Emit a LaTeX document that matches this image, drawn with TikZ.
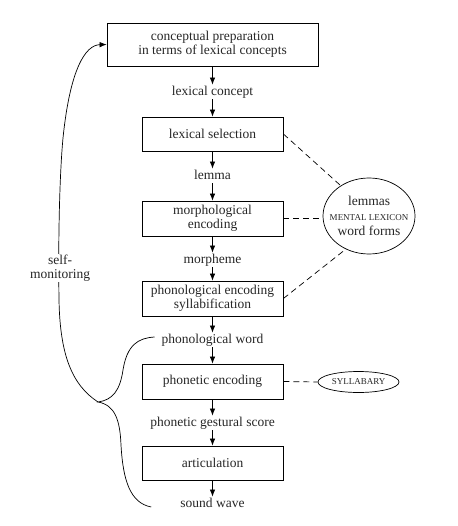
\documentclass[tikz,border=0pt]{standalone}
\usepackage{fontspec}
\setmainfont{Liberation Serif}
\usetikzlibrary{arrows.meta,shapes.geometric}

\begin{document}
\begin{tikzpicture}[x=1pt,y=-1pt,
	every node/.style={font=\fontsize{13.5}{14}\selectfont, text=black!85},
	box/.style={draw, line width=0.8pt, minimum width=141pt, minimum height=34pt, align=center, inner sep=1pt},
	word/.style={inner sep=1pt, text height=9.5pt, text depth=3pt},
	flow/.style={-{Latex[length=7pt,width=5.5pt]}, line width=0.7pt},
	link/.style={line width=0.7pt, dash pattern=on 6pt off 4pt},
	caps/.style={font=\fontsize{9}{10}\selectfont}]
	\useasboundingbox (0,0) rectangle (457,526);
	% main chain
	\node[box, minimum width=211pt, minimum height=43pt] (concept) at (212.5,44.5){conceptual preparation\\in terms of lexical concepts};
	\node[word] (lexcon) at (212.5,92){lexical concept};
	\node[box] (select) at (212.5,134){lexical selection};
	\node[word] (lemma) at (212.5,176){lemma};
	\node[box, minimum height=35pt] (morph) at (212.5,218.5){morphological\\encoding};
	\node[word] (morpheme) at (212.5,260){morpheme};
	\node[box, minimum height=35pt] (phon) at (212.5,298.5){phonological encoding\\syllabification};
	\node[word] (pword) at (212.5,340){phonological word};
	\node[box, minimum height=35pt] (phonetic) at (212.5,381.5){phonetic encoding};
	\node[word] (score) at (212.5,423){phonetic gestural score};
	\node[box] (artic) at (212.5,463){articulation};
	\node[word] (wave) at (212.5,504){sound wave};
	\foreach \a/\b in {concept/lexcon, lexcon/select, select/lemma, lemma/morph, morph/morpheme, morpheme/phon, phon/pword, pword/phonetic, phonetic/score, score/artic, artic/wave}
		\draw[flow] (\a) -- (\b);
	% stores
	\node[draw, ellipse, line width=0.7pt, minimum width=92pt, minimum height=76pt, inner xsep=-12pt, inner ysep=0pt, align=center] (lexicon) at (369,216){lemmas\\[1pt]{\fontsize{9}{10}\selectfont MENTAL LEXICON}\\[1pt]word forms};
	\node[draw, ellipse, line width=0.7pt, minimum width=81pt, minimum height=21pt, inner sep=1pt, caps] (syllabary) at (358.5,382){SYLLABARY};
	\draw[link] (select.east) -- (lexicon.133);
	\draw[link] (morph.east) -- (morph.east -| lexicon.west);
	\draw[link] (phon.east) -- (lexicon.235);
	\draw[link] (phonetic.east) -- (syllabary.west);
	% self-monitoring loop
	\coordinate (fork) at (98,402);
	\draw[line width=0.7pt] ([xshift=-6pt,yshift=3pt]pword.west) .. controls (138,338) and (127,345) .. (123,370) .. controls (120,390) and (113,400) .. (fork) .. controls (115,405) and (120,420) .. (121,445) .. controls (123,480) and (130,503) .. ([xshift=-28pt,yshift=-3pt]wave.west);
	\draw[flow] (fork) .. controls (72,385) and (60,355) .. (59,300) .. controls (58,230) and (60,170) .. (63,138) .. controls (70,70) and (85,45) .. (concept.west);
	\node[fill=white, inner sep=1pt, align=center] (monitor) at (60,268){self-\\monitoring};
\end{tikzpicture}
\end{document}
